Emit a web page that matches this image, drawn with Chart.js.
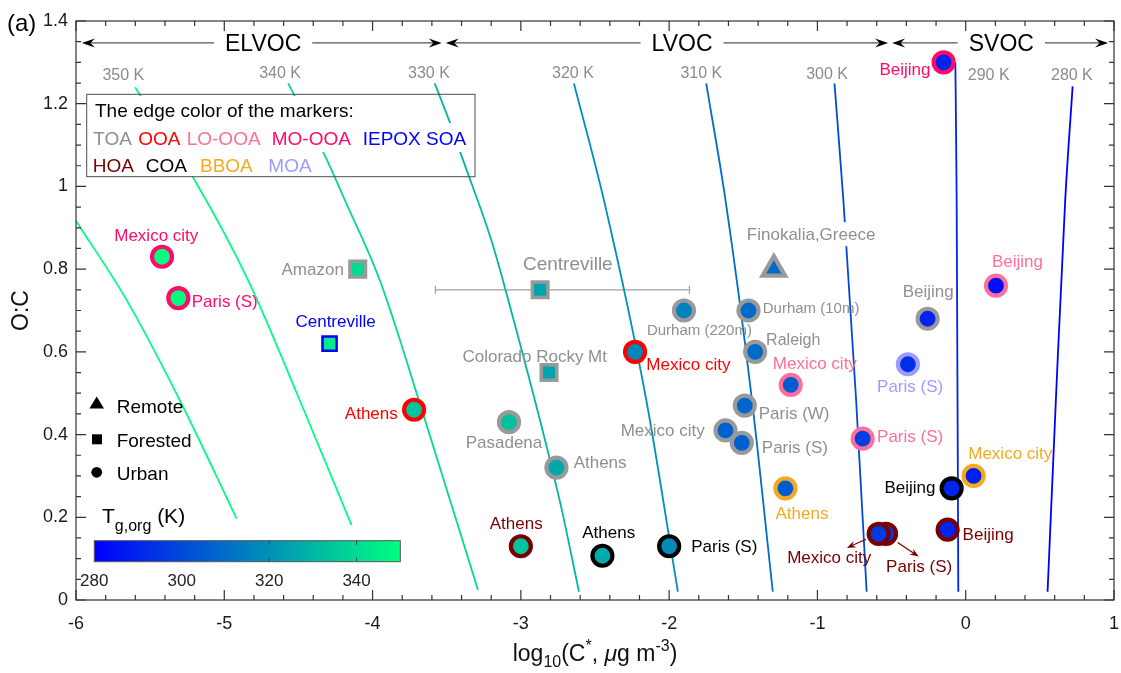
<!DOCTYPE html>
<html>
<head>
<meta charset="utf-8">
<title>O:C vs log10(C*)</title>
<script src="https://cdn.jsdelivr.net/npm/chart.js@4.4.1/dist/chart.umd.min.js"></script>
<style>
html,body{margin:0;padding:0;background:#ffffff;overflow:hidden;}
canvas{display:block;}
</style>
</head>
<body>
<canvas id="chart" width="1121" height="673"></canvas>
<script>
// ======================= DATA =======================
const sites = ['Mexico city','Paris (S)','Amazon','Centreville','Athens','Centreville','Colorado Rocky Mt','Pasadena','Athens','Mexico city',
  'Durham (220m)','Durham (10m)','Finokalia,Greece','Raleigh','Mexico city','Paris (W)','Mexico city','Paris (S)','Paris (S)','Beijing',
  'Paris (S)','Beijing','Beijing','Athens','Mexico city','Beijing','Beijing','Paris (S)','Mexico city','Athens','Athens','Paris (S)'];
const logCstar = [-5.42,-5.31,-4.10,-4.29,-3.72,-2.87,-2.81,-3.08,-2.76,-2.23,
  -1.90,-1.465,-1.294,-1.42,-1.18,-1.49,-1.62,-1.51,-0.695,-0.257,
  -0.39,0.204,-0.149,-1.216,0.053,-0.095,-0.122,-0.537,-0.587,-3.00,-2.45,-2.00];
const oc = [0.83,0.73,0.80,0.62,0.46,0.75,0.55,0.43,0.32,0.60,
  0.70,0.70,0.80,0.60,0.52,0.47,0.41,0.38,0.39,0.68,
  0.57,0.76,1.30,0.27,0.30,0.27,0.17,0.16,0.16,0.13,0.107,0.13];
const oaType = ['MO-OOA','MO-OOA','TOA','IEPOX SOA','OOA','TOA','TOA','TOA','TOA','OOA',
  'TOA','TOA','TOA','TOA','LO-OOA','TOA','TOA','TOA','LO-OOA','TOA',
  'MOA','LO-OOA','MO-OOA','BBOA','BBOA','COA','HOA','HOA','HOA','HOA','COA','COA'];
const siteType = ['Urban','Urban','Forested','Forested','Urban','Forested','Forested','Urban','Urban','Urban',
  'Urban','Urban','Remote','Urban','Urban','Urban','Urban','Urban','Urban','Urban',
  'Urban','Urban','Urban','Urban','Urban','Urban','Urban','Urban','Urban','Urban','Urban','Urban'];
const tgOrg = [350,349,340,344,334,325,325,333,326,317,
  316,309,309,309,305,308,307,306,297,290,
  293,284,290,305,288,290,290,296,296,334,327,318];

// error bar (index into the arrays above)
const errIndex = [5];
const errLow = [-3.576];
const errHigh = [-1.863];

// Tg isopleths (points listed with increasing log10 C*)
const isoT = [360,350,340,330,320,310,300,290,280];
const isoLogC = [
  [-6.0,-5.658,-5.30,-4.917],
  [-5.602,-5.187,-4.839,-4.491,-4.142],
  [-4.569,-4.322,-4.187,-3.951,-3.660,-3.289],
  [-3.581,-3.480,-3.401,-3.199,-3.121,-2.739,-2.608],
  [-2.642,-2.440,-2.154,-1.941],
  [-1.750,-1.620,-1.447,-1.301],
  [-0.885,-0.825,-0.739,-0.668],
  [-0.070,-0.061,-0.050],
  [0.552,0.608,0.671,0.721]
];
const isoOC = [
  [0.917,0.725,0.483,0.197],
  [1.240,1.007,0.773,0.483,0.181],
  [1.249,1.075,0.967,0.773,0.451,0.024],
  [1.249,1.156,1.075,0.870,0.773,0.242,0.020],
  [1.249,0.967,0.483,0.020],
  [1.249,0.967,0.500,0.020],
  [1.249,0.967,0.483,0.020],
  [1.300,0.967,0.020],
  [0.020,0.483,0.967,1.242]
];
const isoLabels = ['', '350 K','340 K','330 K','320 K','310 K','300 K','290 K','280 K'];

// volatility classes
const regimeNames = ['ELVOC','LVOC','SVOC'];
const regimeBounds = [-5.96,-3.52,-0.51,0.96];

// tick values
const xTicks = [-6,-5,-4,-3,-2,-1,0,1];
const yTicks = [0,0.2,0.4,0.6,0.8,1,1.2,1.4];
const xTickLabels = ['-6','-5','-4','-3','-2','-1','0','1'];
const yTickLabels = ['0','0.2','0.4','0.6','0.8','1','1.2','1.4'];
const cbarTicks = [280,300,320,340];
const cbarRange = [280,350];

// legend entries
const legendRow2 = ['TOA','OOA','LO-OOA','MO-OOA','IEPOX SOA'];
const legendRow3 = ['HOA','COA','BBOA','MOA'];
const shapeTypes = ['Remote','Forested','Urban'];

// ======================= LAYOUT / STYLE =======================
const FONT = '"Liberation Sans", Arial, Helvetica, sans-serif';
const f = (sz, st) => (st ? st + ' ' : '') + sz + 'px ' + FONT;
const edgeColor = {'TOA':'#999999','OOA':'#ff0000','LO-OOA':'#ff6f9c','MO-OOA':'#ff0a66','IEPOX SOA':'#0000ff',
  'HOA':'#780000','COA':'#000000','BBOA':'#f2aa22','MOA':'#9c9cff'};
const textColor = Object.assign({}, edgeColor, {'TOA':'#8f8f8f'});
function winter(T){
  const t = Math.min(1, Math.max(0, (T - cbarRange[0]) / (cbarRange[1] - cbarRange[0])));
  return 'rgb(0,' + Math.round(255*t) + ',' + Math.round(255*(1-0.5*t)) + ')';
}
// label anchors (left, baseline) in data units
const labelX = [-5.742,-5.220,-4.614,-4.520,-4.187,-2.986,-3.394,-3.372,-2.644,-2.154,
  -2.150,-1.369,-1.476,-1.346,-1.301,-1.396,-2.327,-1.375,-0.598,-0.425,
  -0.598,0.177,-0.582,-1.283,0.017,-0.548,-0.021,-0.537,-1.204,-3.210,-2.586,-1.851];
const labelY = [0.869,0.709,0.785,0.659,0.438,0.799,0.576,0.367,0.320,0.556,
  0.640,0.694,0.870,0.616,0.558,0.437,0.396,0.355,0.383,0.732,
  0.503,0.804,1.269,0.197,0.340,0.259,0.145,0.068,0.090,0.171,0.149,0.117];
const labelSize = sites.map((s,i)=> i===5 ? 19 : (i===10||i===11) ? 15 : i===13 ? 16 : 17);
const labelBg = sites.map((s,i)=> i===12);
const isoLabelX = [null,-5.681,-4.624,-3.620,-2.649,-1.783,-0.935,0.155,0.716];
const isoLabelY = [null,1.257,1.263,1.263,1.263,1.263,1.259,1.257,1.257];
const regimeY = 1.347;
const regimeTextX = [-4.738,-1.913,0.240];
const hoaArrows = [ {from:[-0.672,0.147], to:[-0.801,0.126]}, {from:[-0.459,0.139], to:[-0.317,0.105]} ];

const pointStyles = siteType.map(s => s==='Remote' ? 'triangle' : s==='Forested' ? 'rect' : 'circle');
const pointRadii = siteType.map((s,i) => s==='Remote' ? 13 : s==='Forested' ? (i===3 ? 10 : 11) : 10);
const pointBorders = siteType.map((s,i) => s==='Forested' ? (i===3 ? 2.5 : 3.5) : 4.2);

// ======================= PLUGINS =======================
function drawArrowHead(ctx, x, y, ang, len, half, color){
  ctx.save();
  ctx.translate(x, y); ctx.rotate(ang);
  ctx.fillStyle = color;
  ctx.beginPath();
  ctx.moveTo(0,0);
  ctx.lineTo(-len, -half);
  ctx.lineTo(-len*0.65, 0);
  ctx.lineTo(-len, half);
  ctx.closePath();
  ctx.fill();
  ctx.restore();
}
function drawRich(ctx, parts, x, y, align){
  let w = 0;
  parts.forEach(p => { ctx.font = p.f; p.w = ctx.measureText(p.t).width; w += p.w; });
  let cx = align === 'center' ? x - w/2 : x;
  parts.forEach(p => { ctx.font = p.f; ctx.fillText(p.t, cx, y + (p.dy||0)); cx += p.w; });
}

const annot = {
  id: 'annot',
  beforeDatasetsDraw(chart){
    const ctx = chart.ctx, X = v => chart.scales.x.getPixelForValue(v), Y = v => chart.scales.y.getPixelForValue(v);
    ctx.save();
    ctx.strokeStyle = '#a0a0a0'; ctx.lineWidth = 1.2;
    errIndex.forEach((idx,k) => {
      const y = Y(oc[idx]), x0 = X(errLow[k]), x1 = X(errHigh[k]);
      ctx.beginPath();
      ctx.moveTo(x0,y); ctx.lineTo(x1,y);
      ctx.moveTo(x0,y-4); ctx.lineTo(x0,y+4);
      ctx.moveTo(x1,y-4); ctx.lineTo(x1,y+4);
      ctx.stroke();
    });
    ctx.restore();
  },
  afterDatasetsDraw(chart){
    const ctx = chart.ctx, X = v => chart.scales.x.getPixelForValue(v), Y = v => chart.scales.y.getPixelForValue(v);
    ctx.save();
    ctx.textAlign = 'left'; ctx.textBaseline = 'alphabetic';

    // ---- legend box (edge colours) ----
    const lb = {l:86.7, t:94.3, r:475, b:176.7};
    ctx.font = f(19);
    const row1 = 'The edge color of the markers:';
    const r1w = ctx.measureText(row1).width;
    const r2x = [93.3,138.3,186.7,271.7,362.7];
    const r3x = [92.7,145.7,200,268.3];
    const r2end = r2x[4] + ctx.measureText(legendRow2[4]).width;
    const r3end = r3x[3] + ctx.measureText(legendRow3[3]).width;
    ctx.fillStyle = '#ffffff';
    ctx.fillRect(91, 96, r1w + 8, 27);
    ctx.fillRect(89, 123, r2end - 89 + 4, 29);
    ctx.fillRect(89, 152, r3end - 89 + 4, 24);
    ctx.strokeStyle = '#4d4d4d'; ctx.lineWidth = 1;
    ctx.strokeRect(lb.l, lb.t, lb.r-lb.l, lb.b-lb.t);
    ctx.fillStyle = '#000';
    ctx.fillText(row1, 95, 116.7);
    legendRow2.forEach((t,i) => { ctx.fillStyle = textColor[t]; ctx.fillText(t, r2x[i], 145); });
    legendRow3.forEach((t,i) => { ctx.fillStyle = textColor[t]; ctx.fillText(t, r3x[i], 171.7); });

    // ---- isopleth labels ----
    ctx.font = f(16); ctx.fillStyle = '#8c8c8c'; ctx.textAlign = 'center';
    isoLabels.forEach((t,i) => { if (t) ctx.fillText(t, X(isoLabelX[i]), Y(isoLabelY[i])); });

    // ---- volatility class arrows ----
    const ay = Y(regimeY);
    ctx.font = f(23);
    regimeNames.forEach((name,i) => {
      const x0 = X(regimeBounds[i]) + (i>0 ? 2 : 0);
      const x1 = X(regimeBounds[i+1]) - (i<2 ? 2 : 0);
      ctx.strokeStyle = '#555'; ctx.lineWidth = 1.3;
      ctx.beginPath(); ctx.moveTo(x0+6, ay); ctx.lineTo(x1-6, ay); ctx.stroke();
      drawArrowHead(ctx, x0, ay, Math.PI, 13, 4.5, '#000');
      drawArrowHead(ctx, x1, ay, 0, 13, 4.5, '#000');
      const tx = X(regimeTextX[i]);
      const tw = ctx.measureText(name).width;
      ctx.fillStyle = '#fff';
      ctx.fillRect(tx - tw/2 - 11, ay - 12, tw + 22, 24);
      ctx.fillStyle = '#000';
      ctx.fillText(name, tx, ay + 8.5);
    });

    // ---- marker labels ----
    ctx.textAlign = 'left';
    sites.forEach((s,i) => {
      ctx.font = f(labelSize[i]);
      const lx = X(labelX[i]), ly = Y(labelY[i]);
      if (labelBg[i]) {
        const w = ctx.measureText(s).width;
        ctx.fillStyle = '#fff';
        ctx.fillRect(lx - 3, ly - labelSize[i] - 1, w + 6, labelSize[i] + 7);
      }
      ctx.fillStyle = textColor[oaType[i]];
      ctx.fillText(s, lx, ly);
    });

    // ---- HOA label arrows ----
    hoaArrows.forEach(a => {
      const x0 = X(a.from[0]), y0 = Y(a.from[1]), x1 = X(a.to[0]), y1 = Y(a.to[1]);
      const ang = Math.atan2(y1-y0, x1-x0);
      ctx.strokeStyle = edgeColor['HOA']; ctx.lineWidth = 1.2;
      ctx.beginPath(); ctx.moveTo(x0,y0); ctx.lineTo(x1 - Math.cos(ang)*5, y1 - Math.sin(ang)*5); ctx.stroke();
      drawArrowHead(ctx, x1, y1, ang, 9, 3.5, edgeColor['HOA']);
    });

    // ---- shape legend ----
    const shapeY = [403.5, 439.3, 472.3];
    const shapeTextY = [413.3, 446.7, 480];
    ctx.fillStyle = '#000';
    ctx.beginPath(); ctx.moveTo(96.7, shapeY[0]-7); ctx.lineTo(104, shapeY[0]+5); ctx.lineTo(89.4, shapeY[0]+5); ctx.closePath(); ctx.fill();
    ctx.fillRect(92, shapeY[1]-5, 10, 10);
    ctx.beginPath(); ctx.arc(96.7, shapeY[2], 5.4, 0, Math.PI*2); ctx.fill();
    ctx.font = f(19);
    shapeTypes.forEach((t,i) => ctx.fillText(t, 116.7, shapeTextY[i]));

    // ---- colour bar ----
    const cb = {l:94.3, t:540.7, r:400.3, b:561.7};
    const grad = ctx.createLinearGradient(cb.l, 0, cb.r, 0);
    grad.addColorStop(0, winter(cbarRange[0]));
    grad.addColorStop(1, winter(cbarRange[1]));
    ctx.fillStyle = grad;
    ctx.fillRect(cb.l, cb.t, cb.r-cb.l, cb.b-cb.t);
    ctx.strokeStyle = '#555'; ctx.lineWidth = 1;
    ctx.strokeRect(cb.l, cb.t, cb.r-cb.l, cb.b-cb.t);
    const cbx = v => cb.l + (v - cbarRange[0]) / (cbarRange[1]-cbarRange[0]) * (cb.r - cb.l);
    ctx.strokeStyle = '#444';
    cbarTicks.forEach(v => {
      const x = cbx(v);
      if (v > cbarRange[0]) {
        ctx.beginPath(); ctx.moveTo(x, cb.b); ctx.lineTo(x, cb.b-4); ctx.moveTo(x, cb.t); ctx.lineTo(x, cb.t+4); ctx.stroke();
      }
    });
    ctx.font = f(17); ctx.fillStyle = '#222'; ctx.textAlign = 'center';
    cbarTicks.forEach(v => ctx.fillText(String(v), cbx(v), 586));
    ctx.textAlign = 'left'; ctx.fillStyle = '#000';
    drawRich(ctx, [
      {t:'T', f:f(21)}, {t:'g,org', f:f(16), dy:8}, {t:' (K)', f:f(21)}
    ], 102, 522.7, 'left');

    ctx.restore();
  },
  afterDraw(chart){
    const ctx = chart.ctx, a = chart.chartArea;
    const X = v => chart.scales.x.getPixelForValue(v), Y = v => chart.scales.y.getPixelForValue(v);
    ctx.save();
    ctx.strokeStyle = '#333'; ctx.lineWidth = 1.2;
    ctx.strokeRect(a.left, a.top, a.right-a.left, a.bottom-a.top);
    ctx.beginPath();
    for (let i = 0; i <= 35; i++) {
      const x = X(xTicks[0] + i*0.2), len = (i % 5 === 0) ? 10 : 5;
      ctx.moveTo(x, a.bottom); ctx.lineTo(x, a.bottom - len);
      ctx.moveTo(x, a.top); ctx.lineTo(x, a.top + len);
    }
    for (let i = 0; i <= 28; i++) {
      const y = Y(i*0.05), len = (i % 4 === 0) ? 10 : 5;
      ctx.moveTo(a.left, y); ctx.lineTo(a.left + len, y);
      ctx.moveTo(a.right, y); ctx.lineTo(a.right - len, y);
    }
    ctx.stroke();

    // tick labels (positions from the chart's own scales)
    ctx.fillStyle = '#1a1a1a'; ctx.font = f(18);
    ctx.textAlign = 'center'; ctx.textBaseline = 'alphabetic';
    xTicks.forEach((v,i) => ctx.fillText(xTickLabels[i], X(v), a.bottom + 29));
    ctx.textAlign = 'right'; ctx.textBaseline = 'middle';
    yTicks.forEach((v,i) => ctx.fillText(yTickLabels[i], a.left - 8, Y(v)));

    // axis titles
    ctx.fillStyle = '#111'; ctx.textAlign = 'left'; ctx.textBaseline = 'alphabetic';
    drawRich(ctx, [
      {t:'log', f:f(23)}, {t:'10', f:f(16), dy:6}, {t:'(C', f:f(23)}, {t:'*', f:f(16), dy:-10},
      {t:', ', f:f(23)}, {t:'\u03bc', f:f(23,'italic')}, {t:'g m', f:f(23)}, {t:'-3', f:f(16), dy:-10}, {t:')', f:f(23)}
    ], (a.left + a.right)/2, 661, 'center');
    ctx.save();
    ctx.translate(22, (a.top + a.bottom)/2);
    ctx.rotate(-Math.PI/2);
    ctx.font = f(23); ctx.textAlign = 'center'; ctx.textBaseline = 'middle';
    ctx.fillText('O:C', 0, 0);
    ctx.restore();
    ctx.font = f(24); ctx.fillStyle = '#000'; ctx.textAlign = 'left'; ctx.textBaseline = 'alphabetic';
    ctx.fillText('(a)', 7, 31);
    ctx.restore();
  }
};

// ======================= CHART =======================
const datasets = [{
  type: 'scatter',
  data: logCstar.map((x,i) => ({x: x, y: oc[i]})),
  pointStyle: pointStyles,
  pointRadius: pointRadii,
  pointHoverRadius: pointRadii,
  pointBorderWidth: pointBorders,
  pointHoverBorderWidth: pointBorders,
  pointBackgroundColor: tgOrg.map(winter),
  pointBorderColor: oaType.map(t => edgeColor[t]),
  showLine: false,
  clip: false,
  order: 0
}];
isoT.forEach((T,k) => {
  datasets.push({
    type: 'line',
    data: isoLogC[k].map((x,i) => ({x: x, y: isoOC[k][i]})),
    borderColor: winter(T),
    borderWidth: 1.8,
    pointRadius: 0,
    pointHoverRadius: 0,
    cubicInterpolationMode: 'monotone',
    fill: false,
    order: 1
  });
});

new Chart(document.getElementById('chart').getContext('2d'), {
  type: 'scatter',
  data: { datasets: datasets },
  options: {
    responsive: false,
    animation: false,
    events: [],
    layout: { autoPadding: false, padding: { top: 21, right: 7, left: 0, bottom: 0 } },
    plugins: { legend: { display: false }, tooltip: { enabled: false } },
    scales: {
      x: {
        type: 'linear', min: xTicks[0], max: xTicks[xTicks.length-1],
        afterBuildTicks: s => { s.ticks = xTicks.map(v => ({value: v})); },
        ticks: { display: false },
        grid: { display: false, drawTicks: false },
        border: { display: false },
        afterFit: s => { s.height = 73; s.paddingLeft = 0; s.paddingRight = 0; }
      },
      y: {
        type: 'linear', min: yTicks[0], max: yTicks[yTicks.length-1],
        afterBuildTicks: s => { s.ticks = yTicks.map(v => ({value: v})); },
        ticks: { display: false },
        grid: { display: false, drawTicks: false },
        border: { display: false },
        afterFit: s => { s.width = 76; s.paddingTop = 0; s.paddingBottom = 0; }
      }
    }
  },
  plugins: [annot]
});
</script>
</body>
</html>
